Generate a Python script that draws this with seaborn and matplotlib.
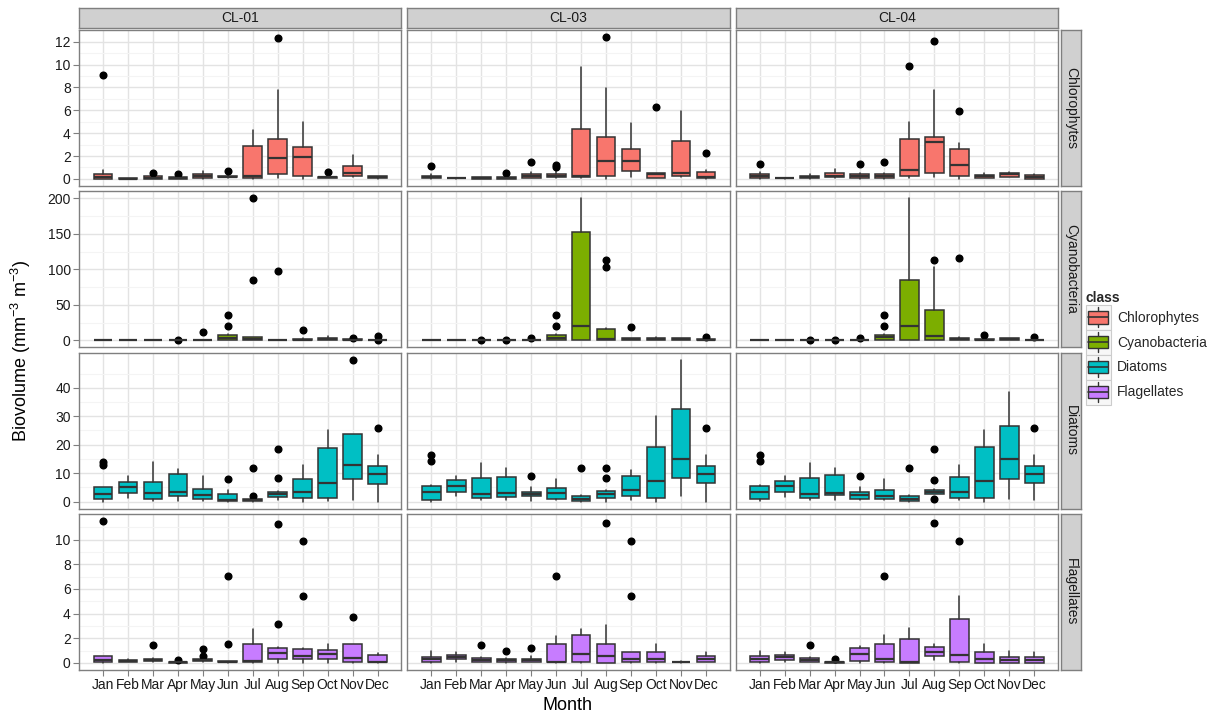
import numpy as np
import matplotlib
matplotlib.use("Agg")
import matplotlib.pyplot as plt
import seaborn as sns
from matplotlib.patches import Rectangle, Patch
from matplotlib.lines import Line2D
from matplotlib.legend_handler import HandlerBase
from matplotlib.ticker import FixedLocator

# ---------------- data ----------------
months = ["Jan", "Feb", "Mar", "Apr", "May", "Jun", "Jul", "Aug", "Sep", "Oct", "Nov", "Dec"]
sites = ["CL-01", "CL-03", "CL-04"]
classes = ["Chlorophytes", "Cyanobacteria", "Diatoms", "Flagellates"]
class_colors = ["#F8766D", "#7CAE00", "#00BFC4", "#C77CFF"]
y_tick_steps = [2, 50, 10, 2]

# Chlorophytes
chl_cl01 = dict(
    lo=[0, 0, 0, 0.02, 0, 0.1, 0, 0.05, 0, 0.08, 0.2, 0.03],
    q1=[0, 0, 0, 0.03, 0.05, 0.15, 0.1, 0.45, 0.25, 0.1, 0.25, 0.05],
    med=[0.2, 0.02, 0.1, 0.1, 0.3, 0.2, 0.3, 1.8, 1.95, 0.15, 0.5, 0.15],
    q3=[0.4, 0.06, 0.25, 0.2, 0.45, 0.3, 2.9, 3.5, 2.75, 0.2, 1.1, 0.25],
    hi=[0.8, 0.08, 0.3, 0.25, 0.7, 0.35, 4.25, 7.8, 4.95, 0.25, 2.05, 0.3],
    out=[[9.1], [], [0.5], [0.4], [], [0.65], [], [12.3], [], [0.6], [], []])
chl_cl03 = dict(
    lo=[0, 0.03, 0, 0, 0.05, 0.1, 0.05, 0, 0.2, 0.05, 0.2, 0],
    q1=[0.05, 0.04, 0, 0.02, 0.1, 0.15, 0.2, 0.3, 0.65, 0.1, 0.3, 0.05],
    med=[0.2, 0.05, 0.05, 0.08, 0.25, 0.3, 0.3, 1.6, 1.6, 0.4, 0.55, 0.15],
    q3=[0.3, 0.06, 0.15, 0.15, 0.4, 0.45, 4.35, 3.7, 2.6, 0.5, 3.3, 0.6],
    hi=[0.45, 0.07, 0.2, 0.25, 0.6, 0.7, 9.8, 7.95, 4.9, 0.55, 5.95, 0.8],
    out=[[1.1], [], [], [0.5], [1.5], [1.0, 1.2], [], [12.4], [], [6.3], [], [2.3]])
chl_cl04 = dict(
    lo=[0, 0.03, 0, 0.05, 0, 0, 0.05, 0.2, 0, 0.05, 0.15, 0],
    q1=[0.05, 0.04, 0.05, 0.15, 0.05, 0.05, 0.25, 0.5, 0.3, 0.1, 0.2, 0],
    med=[0.25, 0.05, 0.15, 0.3, 0.25, 0.25, 0.75, 3.25, 1.25, 0.25, 0.4, 0.15],
    q3=[0.45, 0.06, 0.3, 0.5, 0.4, 0.4, 3.5, 3.65, 2.6, 0.35, 0.5, 0.35],
    hi=[0.6, 0.07, 0.45, 0.85, 0.5, 0.5, 4.95, 7.75, 3.1, 0.5, 0.6, 0.4],
    out=[[1.3], [], [], [], [1.3], [1.45], [9.85], [12.1], [5.95], [], [], []])

# Cyanobacteria
cya_cl01 = dict(
    lo=[0, 0, 0, 0, 0, 0, 0, 0, 0, 0, 0, 0],
    q1=[0, 0, 0, 0, 0, 0, 0, 0, 0.3, 0, 0, 0],
    med=[0.2, 0.2, 0.2, 0.3, 0.4, 3, 2, 0.4, 1, 1.5, 1, 0.5],
    q3=[0.5, 0.5, 0.5, 1, 0.8, 8, 4.7, 0.8, 2, 3.5, 2, 1],
    hi=[0.6, 0.6, 0.6, 1.0, 1, 8.5, 5, 1, 3, 6, 3, 1.5],
    out=[[], [], [], [0.8], [11], [35.5, 20.5], [85, 200], [97], [15], [], [3.8], [6.5, 0]])
cya_cl03 = dict(
    lo=[0, 0, 0, 0, 0, 0.5, 0, 0, 0, 0, 0, 0],
    q1=[0, 0, 0, 0, 0, 1, 0, 0, 0, 0, 0, 0],
    med=[0.2, 0.2, 0.4, 0.4, 0.5, 3.3, 20.5, 2, 1.5, 1.5, 2, 0.5],
    q3=[0.5, 0.5, 1, 1, 1, 8, 153, 15.5, 2.5, 3, 3, 1.5],
    hi=[0.6, 0.6, 1.2, 1.2, 1.5, 8.5, 200, 17.8, 3, 4, 3.5, 2],
    out=[[], [], [0.8], [0.8], [3.8], [35.5, 20.5], [], [113.5, 104], [18.5], [], [], [4.2]])
cya_cl04 = dict(
    lo=[0, 0, 0, 0, 0, 0, 0, 0, 0, 0, 0, 0],
    q1=[0, 0, 0, 0, 0, 0, 0, 0, 0, 0, 0, 0],
    med=[0.2, 0.2, 0.4, 0.4, 0.5, 4, 20.5, 6, 2, 1, 1.5, 0.5],
    q3=[0.5, 0.5, 1, 1, 1, 8, 85, 43, 3.5, 2, 2.5, 1],
    hi=[0.6, 0.6, 1.2, 1.2, 1.5, 8.5, 200, 104, 5, 3, 3, 1.5],
    out=[[], [], [0.8], [0.8], [3.8], [35.5, 20.5], [], [113.5], [116], [7.5], [], [4.2]])

# Diatoms
dia_cl01 = dict(
    lo=[0, 1.3, 0.3, 0.3, 0.2, 0, 0, 0.5, 0, 0.2, 0.5, 0],
    q1=[0.8, 3.1, 0.8, 2.0, 1.0, 0.3, 0.1, 1.5, 1.2, 1.1, 8.1, 6.3],
    med=[2.5, 5.1, 3.0, 3.5, 2.3, 0.7, 0.4, 2.5, 3.2, 6.5, 12.8, 9.6],
    q3=[5.1, 7.0, 7.0, 9.8, 4.5, 2.5, 0.8, 3.3, 7.8, 19.0, 23.7, 12.4],
    hi=[5.3, 9.0, 13.8, 11.6, 9.0, 4.0, 1.0, 3.6, 12.8, 25.1, 23.8, 16.5],
    out=[[14.0, 12.8], [], [], [], [], [8.0], [11.9, 2.0], [18.4, 8.3], [], [], [49.8], [25.7]])
dia_cl03 = dict(
    lo=[0, 1.9, 0.5, 0.5, 0.3, 0.5, 0, 0, 0.5, 0, 1.8, 0],
    q1=[0.7, 3.4, 1.4, 1.6, 2.0, 1.0, 0.2, 1.4, 1.8, 1.3, 8.2, 6.4],
    med=[3.4, 5.5, 2.6, 2.9, 2.8, 2.9, 1.0, 2.7, 4.1, 7.4, 15.1, 9.7],
    q3=[5.5, 7.5, 8.2, 8.6, 3.4, 4.8, 2.1, 3.75, 8.9, 19.35, 32.5, 12.55],
    hi=[5.7, 9.1, 13.7, 11.7, 5.3, 8.0, 2.3, 3.9, 11.0, 30.1, 49.85, 16.5],
    out=[[16.2, 14.1], [], [], [], [9.1], [], [11.8], [11.8, 8.3], [], [], [], [25.8]])
dia_cl04 = dict(
    lo=[0.3, 1.5, 0.5, 0.5, 0.4, 0.5, 0, 2.5, 0.5, 0, 0.8, 0.5],
    q1=[0.8, 3.2, 1.4, 2.2, 0.8, 0.8, 0.3, 2.7, 1.4, 1.2, 8.0, 6.4],
    med=[3.5, 5.4, 2.7, 2.9, 2.3, 1.9, 1.0, 3.4, 3.4, 7.4, 15.1, 9.7],
    q3=[5.6, 7.4, 8.2, 9.3, 3.4, 4.0, 2.0, 4.1, 8.6, 19.35, 26.7, 12.55],
    hi=[5.8, 9.0, 13.6, 11.7, 5.3, 8.0, 2.2, 4.3, 12.9, 25.2, 38.4, 16.5],
    out=[[16.2, 14.1], [], [], [], [9.1], [], [11.8], [18.4, 7.7, 0.9], [], [], [], [25.8]])

# Flagellates
fla_cl01 = dict(
    lo=[0, 0.08, 0.1, 0, 0.1, 0.03, 0, 0, 0, 0, 0, 0],
    q1=[0.05, 0.1, 0.15, 0, 0.15, 0.05, 0.1, 0.35, 0.3, 0.35, 0.1, 0.05],
    med=[0.2, 0.18, 0.25, 0.05, 0.2, 0.1, 0.15, 0.8, 0.55, 0.75, 0.4, 0.1],
    q3=[0.55, 0.25, 0.35, 0.1, 0.3, 0.15, 1.55, 1.2, 1.15, 1.05, 1.5, 0.65],
    hi=[0.6, 0.28, 0.4, 0.12, 0.35, 0.18, 2.75, 1.25, 1.2, 1.55, 1.5, 0.8],
    out=[[11.5], [], [1.45], [0.25], [1.15, 0.55], [7.05, 1.55], [], [11.3, 3.15], [9.85, 5.45], [], [3.7], []])
fla_cl03 = dict(
    lo=[0, 0.1, 0.05, 0, 0.05, 0, 0, 0, 0, 0, 0.03, 0.05],
    q1=[0.05, 0.3, 0.1, 0.05, 0.1, 0.05, 0.1, 0, 0.05, 0.05, 0.05, 0.1],
    med=[0.3, 0.45, 0.25, 0.2, 0.25, 0.1, 0.7, 0.55, 0.3, 0.3, 0.07, 0.35],
    q3=[0.5, 0.65, 0.4, 0.35, 0.35, 1.5, 2.25, 1.5, 0.85, 0.85, 0.1, 0.6],
    hi=[0.95, 0.85, 0.45, 0.4, 0.55, 2.2, 2.75, 3.1, 0.9, 1.55, 0.12, 0.85],
    out=[[], [], [1.45], [0.95], [1.2], [7.05], [], [11.35], [9.85, 5.45], [], [], []])
fla_cl04 = dict(
    lo=[0, 0.1, 0.05, 0, 0, 0, 0, 0.2, 0, 0, 0, 0],
    q1=[0.05, 0.25, 0.1, 0, 0.15, 0.05, 0, 0.55, 0.1, 0, 0, 0],
    med=[0.3, 0.45, 0.25, 0.05, 0.7, 0.3, 0.05, 0.85, 0.65, 0.3, 0.2, 0.25],
    q3=[0.55, 0.65, 0.4, 0.1, 1.2, 1.5, 1.95, 1.25, 3.6, 0.85, 0.5, 0.45],
    hi=[0.95, 0.85, 0.45, 0.12, 1.35, 2.25, 2.8, 1.55, 5.4, 1.55, 0.95, 0.85],
    out=[[], [], [1.45], [0.3], [], [7.05], [], [11.35], [9.85], [], [], []])

panels = {
    ("Chlorophytes", "CL-01"): chl_cl01, ("Chlorophytes", "CL-03"): chl_cl03, ("Chlorophytes", "CL-04"): chl_cl04,
    ("Cyanobacteria", "CL-01"): cya_cl01, ("Cyanobacteria", "CL-03"): cya_cl03, ("Cyanobacteria", "CL-04"): cya_cl04,
    ("Diatoms", "CL-01"): dia_cl01, ("Diatoms", "CL-03"): dia_cl03, ("Diatoms", "CL-04"): dia_cl04,
    ("Flagellates", "CL-01"): fla_cl01, ("Flagellates", "CL-03"): fla_cl03, ("Flagellates", "CL-04"): fla_cl04,
}

# ---------------- style ----------------
sns.set_theme(style="whitegrid")
plt.rcParams['font.family'] = ['Liberation Sans', 'DejaVu Sans']
plt.rcParams['mathtext.fontset'] = 'custom'
plt.rcParams['mathtext.rm'] = 'Liberation Sans'
plt.rcParams['mathtext.it'] = 'Liberation Sans:italic'
plt.rcParams['mathtext.bf'] = 'Liberation Sans:bold'

W, H = 1221, 716
fig, axes = plt.subplots(4, 3, figsize=(W / 100, H / 100), dpi=100, sharex=True, sharey='row')
fig.subplots_adjust(left=79 / W, right=1058 / W, top=1 - 30 / H, bottom=1 - 670 / H,
                    wspace=6 / 322.5, hspace=5.3 / 156)

EDGE = "#333333"
BORDER = "#7F7F7F"
TXT = 10

positions = np.arange(1, len(months) + 1)

for r, cls in enumerate(classes):
    vals = []
    for site in sites:
        d = panels[(cls, site)]
        vals += d["lo"] + d["hi"] + [v for o in d["out"] for v in o]
    vmin, vmax = min(vals), max(vals)
    span = vmax - vmin
    ylo, yhi = vmin - 0.05 * span, vmax + 0.05 * span
    step = y_tick_steps[r]
    major = np.arange(0, vmax + 1e-9, step)
    minor = np.arange(-step / 2, yhi, step / 2)
    minor = [m for m in minor if m > ylo and not np.isclose(m % step, 0)]

    for c, site in enumerate(sites):
        ax = axes[r, c]
        d = panels[(cls, site)]
        stats = []
        for i in range(len(months)):
            stats.append(dict(whislo=d["lo"][i], q1=d["q1"][i], med=d["med"][i],
                              q3=d["q3"][i], whishi=d["hi"][i], fliers=d["out"][i]))
        ax.bxp(stats, positions=positions, widths=0.75, patch_artist=True, showcaps=False,
               boxprops=dict(facecolor=class_colors[r], edgecolor=EDGE, linewidth=1.1),
               medianprops=dict(color=EDGE, linewidth=1.6),
               whiskerprops=dict(color=EDGE, linewidth=1.1),
               flierprops=dict(marker='o', markerfacecolor='black', markeredgecolor='black',
                               markersize=4.8, linestyle='none'),
               manage_ticks=False)
        ax.set_facecolor('white')
        ax.set_axisbelow(True)
        ax.set_xlim(0.04, 12.95)
        ax.set_ylim(ylo, yhi)
        ax.xaxis.set_major_locator(FixedLocator(positions))
        ax.yaxis.set_major_locator(FixedLocator(major))
        ax.yaxis.set_minor_locator(FixedLocator(minor))
        ax.grid(True, which='major', color='#E3E3E3', linewidth=1.0)
        ax.grid(True, which='minor', axis='y', color='#F4F4F4', linewidth=0.8)
        ax.grid(False, which='minor', axis='x')
        for s in ax.spines.values():
            s.set_visible(True)
            s.set_color(BORDER)
            s.set_linewidth(1.0)
        ax.tick_params(axis='both', which='major', labelsize=TXT, labelcolor='#1A1A1A',
                       color=BORDER, width=0.8, pad=2)
        ax.tick_params(axis='y', which='minor', left=False, length=0)
        ax.tick_params(axis='x', bottom=(r == 3), length=4 if r == 3 else 0,
                       labelbottom=(r == 3))
        ax.tick_params(axis='y', left=(c == 0), length=4 if c == 0 else 0,
                       labelleft=(c == 0))
        if r == 3:
            ax.set_xticklabels(months)
        ax.set_xlabel("")
        ax.set_ylabel("")

# ---------------- strips ----------------
STRIP_FC = "#D0D0D0"
for c, site in enumerate(sites):
    pos = axes[0, c].get_position()
    sax = fig.add_axes([pos.x0, pos.y1 + 2 / H, pos.width, 20 / H])
    sax.set_facecolor(STRIP_FC)
    sax.set_xticks([]); sax.set_yticks([])
    sax.grid(False)
    for s in sax.spines.values():
        s.set_visible(True); s.set_color(BORDER); s.set_linewidth(1.0)
    sax.text(0.5, 0.5, site, ha='center', va='center', fontsize=TXT, color='#1A1A1A',
             transform=sax.transAxes)
for r, cls in enumerate(classes):
    pos = axes[r, 2].get_position()
    sax = fig.add_axes([pos.x1 + 3 / W, pos.y0, 20 / W, pos.height])
    sax.set_facecolor(STRIP_FC)
    sax.set_xticks([]); sax.set_yticks([])
    sax.grid(False)
    for s in sax.spines.values():
        s.set_visible(True); s.set_color(BORDER); s.set_linewidth(1.0)
    sax.text(0.5, 0.5, cls, ha='center', va='center', fontsize=TXT, color='#1A1A1A',
             rotation=-90, transform=sax.transAxes)

# ---------------- axis titles ----------------
fig.text(568 / W, 1 - 705 / H, "Month", ha='center', va='center', fontsize=13, color='black')
fig.text(21 / W, 1 - 351 / H, r"Biovolume (mm$^{-3}$ m$^{-3}$)", ha='center', va='center',
         rotation=90, fontsize=13, color='black')

# ---------------- legend ----------------
class BoxKeyHandler(HandlerBase):
    def create_artists(self, legend, orig_handle, xdescent, ydescent, width, height, fontsize, trans):
        x0, y0 = -xdescent, -ydescent
        fc = orig_handle.get_facecolor()
        bg = Rectangle((x0, y0), width, height, facecolor='#F7F7F7', edgecolor='#CCCCCC',
                       linewidth=0.8, transform=trans)
        cx = x0 + width / 2
        wl = Line2D([cx, cx], [y0 + 0.1 * height, y0 + 0.9 * height], color=EDGE, lw=1.0,
                    transform=trans)
        box = Rectangle((x0 + 0.1 * width, y0 + 0.25 * height), 0.8 * width, 0.5 * height,
                        facecolor=fc, edgecolor=EDGE, linewidth=1.0, transform=trans)
        med = Line2D([x0 + 0.1 * width, x0 + 0.9 * width], [y0 + height / 2] * 2, color=EDGE,
                     lw=1.2, transform=trans)
        return [bg, wl, box, med]

handles = [Patch(facecolor=col, edgecolor=EDGE) for col in class_colors]
leg = fig.legend(handles, classes, loc='upper left', bbox_to_anchor=(1083 / W, 1 - 288 / H),
                 frameon=False, title='class', alignment='left',
                 title_fontproperties={'weight': 'bold', 'size': TXT},
                 prop={'size': TXT}, handler_map={Patch: BoxKeyHandler()},
                 handlelength=1.8, handleheight=2.39, labelspacing=0.0, handletextpad=0.45,
                 borderpad=0.2, borderaxespad=0)

fig.savefig("out.png", dpi=100, facecolor='white')
